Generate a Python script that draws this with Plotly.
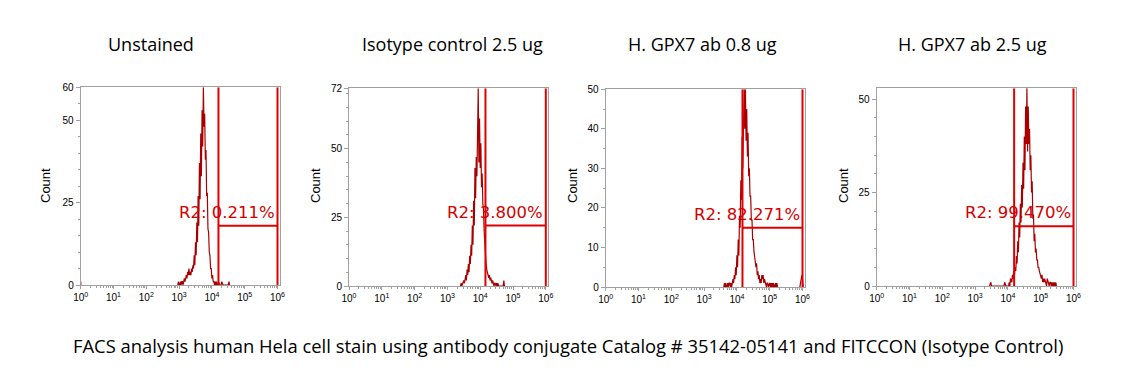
import plotly.graph_objects as go

# page body margin of the browser (default 8px) is compensated for
PAGE_PAD = 8
W_REF, H_REF = 1139, 378
W, H = W_REF - 2 * PAGE_PAD, H_REF - 2 * PAGE_PAD

titles = ["Unstained", "Isotype control 2.5 ug", "H. GPX7 ab 0.8 ug", "H. GPX7 ab 2.5 ug"]
caption = "FACS analysis human Hela cell stain using antibody conjugate Catalog # 35142-05141 and FITCCON (Isotype Control)"
gate_labels = ["R2: 0.211%", "R2: 3.800%", "R2: 82.271%", "R2: 99.470%"]

# histogram channel grid (log10 fluorescence), counts per channel
step = 0.02
p1_start = 2.96
p1_counts = [0, 1, 0, 0, 1, 0, 1, 1, 0, 1, 2, 1, 2, 3, 2, 4, 3, 5, 3, 4,
             3, 5, 4, 6, 5, 9, 6, 13, 9, 19, 13, 27, 18, 37, 26, 46, 33, 53, 42, 60,
             48, 52, 38, 41, 27, 28, 17, 16, 10, 9, 5, 5, 2, 3, 1, 1, 0, 1, 0, 1,
             0, 0, 1, 0, 0, 0, 0, 1, 0, 0, 0, 0, 0, 0, 0, 0, 0, 0, 1, 0]
p2_start = 3.40
p2_counts = [0, 1, 0, 1, 1, 2, 1, 3, 4, 2, 6, 4, 8, 5, 11, 8, 15, 11, 22, 15,
             31, 22, 43, 32, 47, 40, 58, 72, 45, 61, 43, 52, 36, 41, 30, 28, 20, 15, 10, 8,
             6, 5, 4, 3, 4, 2, 3, 2, 1, 2, 1, 0, 1, 1, 0, 1, 0, 1, 0, 0,
             0, 0, 0, 0, 0, 0, 2, 0]
p3_start = 3.60
p3_counts = [0, 1, 0, 1, 0, 0, 1, 0, 1, 1, 0, 1, 0, 1, 2, 1, 3, 2, 5, 3,
             8, 5, 12, 8, 18, 15, 27, 22, 38, 30, 47, 50, 40, 50, 37, 45, 33, 39, 28, 30,
             23, 23, 17, 17, 12, 12, 9, 8, 6, 5, 6, 3, 4, 2, 3, 1, 2, 1, 3, 2,
             3, 1, 2, 1, 1, 0, 1, 1, 0, 1, 1, 0, 1, 0, 1, 0, 1, 0, 0, 1,
             0, 1, 0]
p3_tail_start = 5.90
p3_tail_counts = [0, 0, 1, 2, 3, 2, 0]
p4_start = 3.44
p4_counts = [0, 1, 1, 0, 0, 0, 0, 0, 0, 0, 0, 0, 0, 0, 0, 0, 0, 0, 0, 0,
             0, 0, 0, 1, 0, 0, 0, 0, 0, 0, 1, 0, 2, 1, 1, 3, 2, 4, 3, 5,
             4, 8, 6, 12, 9, 17, 13, 22, 17, 27, 21, 33, 26, 40, 31, 48, 38, 53, 36, 48,
             38, 42, 31, 35, 25, 28, 18, 19, 12, 14, 9, 10, 7, 7, 5, 5, 4, 3, 3, 2,
             3, 1, 2, 1, 2, 1, 1, 0, 2, 1, 1, 0, 1, 1, 0, 1, 0, 1, 0, 1,
             0, 1, 0]

starts = [p1_start, p2_start, p3_start, p4_start]
counts = [p1_counts, p2_counts, p3_counts, p4_counts]
y_max = [60, 72, 50, 52.9]
y_ticks = [[0, 25, 50, 60], [0, 25, 50, 72], [0, 10, 20, 30, 40, 50], [0, 25, 50]]
y_minor = [5, 5, 5, 5]
gate_left = [4.20, 4.16, 4.17, 4.19]
gate_right = 6.0
gate_level = [18, 22, 15, 16]
x_tick_vals = [1, 10, 100, 1e3, 1e4, 1e5, 1e6]
x_tick_text = ["10<sup>%d</sup>" % i for i in range(7)]

# layout geometry (pixels in the reference picture)
panels = [
    (80.7, 87.3, 285.0),
    (349.0, 88.3, 286.0),
    (605.7, 89.3, 287.0),
    (876.7, 88.3, 286.0),
]
px_per_dec = 32.8
x_range_log = 6.08
title_x = [151, 452, 702, 972]
title_y = 44
count_x = [45, 315, 572, 843]
count_y = 186
caption_x, caption_y = 568, 345


def fx(px):
    return (px - PAGE_PAD) / W


def fy(py):
    return 1 - (py - PAGE_PAD) / H


hist_color = "#a80000"
gate_color = "#e00000"
axis_color = "#a0a0a0"

fig = go.Figure()
annotations = []

for i in range(4):
    L, T, B = panels[i]
    R = L + x_range_log * px_per_dec
    xa = "x" if i == 0 else "x%d" % (i + 1)
    ya = "y" if i == 0 else "y%d" % (i + 1)
    xs = [10 ** (starts[i] + k * step) for k in range(len(counts[i]))]
    fig.add_trace(go.Scatter(x=xs, y=counts[i], mode="lines",
                             line=dict(color=hist_color, width=1.2),
                             xaxis=xa, yaxis=ya, showlegend=False, hoverinfo="skip"))
    if i == 0:
        fig.add_trace(go.Scatter(x=[1, 1], y=[0, 1], mode="lines",
                                 line=dict(color=hist_color, width=1.5),
                                 xaxis=xa, yaxis=ya, showlegend=False))
    if i == 2:
        xt = [10 ** (p3_tail_start + k * step) for k in range(len(p3_tail_counts))]
        fig.add_trace(go.Scatter(x=xt, y=p3_tail_counts, mode="lines",
                                 line=dict(color=hist_color, width=1.2),
                                 xaxis=xa, yaxis=ya, showlegend=False))
    gl = 10 ** gate_left[i]
    gr = 10 ** gate_right
    # gate: two verticals and a horizontal bar
    fig.add_trace(go.Scatter(x=[gl, gl], y=[0, y_max[i]], mode="lines",
                             line=dict(color=gate_color, width=2),
                             xaxis=xa, yaxis=ya, showlegend=False))
    fig.add_trace(go.Scatter(x=[gr, gr], y=[0, y_max[i]], mode="lines",
                             line=dict(color=gate_color, width=2),
                             xaxis=xa, yaxis=ya, showlegend=False))
    fig.add_trace(go.Scatter(x=[gl, gr], y=[gate_level[i], gate_level[i]], mode="lines",
                             line=dict(color=gate_color, width=2),
                             xaxis=xa, yaxis=ya, showlegend=False))

    axis_common = dict(showline=True, linecolor=axis_color, linewidth=1, mirror=True,
                       showgrid=False, zeroline=False, ticks="outside",
                       tickcolor=axis_color, automargin=False)
    fig.layout[("xaxis" if i == 0 else "xaxis%d" % (i + 1))] = dict(
        axis_common, type="log", range=[0, x_range_log],
        domain=[fx(L), fx(R)], anchor=ya,
        tickvals=x_tick_vals, ticktext=x_tick_text, ticklen=3,
        tickfont=dict(family="Liberation Sans", size=10, color="#000000"),
        minor=dict(ticks="outside", ticklen=2, tickcolor=axis_color, dtick="D1",
                   showgrid=False),
    )
    fig.layout[("yaxis" if i == 0 else "yaxis%d" % (i + 1))] = dict(
        axis_common, range=[0, y_max[i]],
        domain=[fy(B), fy(T)], anchor=xa,
        tickvals=y_ticks[i], ticklen=4,
        tickfont=dict(family="Liberation Sans", size=10, color="#000000"),
        minor=dict(ticks="outside", ticklen=2, tickcolor=axis_color, dtick=y_minor[i],
                   showgrid=False),
    )

    annotations.append(dict(text=gate_labels[i], xref=xa + " domain", yref=ya,
                            x=6.0 / x_range_log, y=gate_level[i],
                            xanchor="right", yanchor="bottom", xshift=-1, yshift=2,
                            showarrow=False,
                            font=dict(family="DejaVu Sans", size=16.5, color="#d40000")))
    annotations.append(dict(text=titles[i], xref="paper", yref="paper",
                            x=fx(title_x[i]), y=fy(title_y),
                            xanchor="center", yanchor="middle", showarrow=False,
                            font=dict(family="Open Sans", size=18, color="#000000")))
    annotations.append(dict(text="Count", xref="paper", yref="paper",
                            x=fx(count_x[i]), y=fy(count_y), textangle=-90,
                            xanchor="center", yanchor="middle", showarrow=False,
                            font=dict(family="Liberation Sans", size=13, color="#000000")))

annotations.append(dict(text=caption, xref="paper", yref="paper",
                        x=fx(caption_x), y=fy(caption_y), xanchor="center", yanchor="middle",
                        showarrow=False,
                        font=dict(family="Open Sans", size=18.4, color="#000000")))

fig.update_layout(width=W, height=H,
                  margin=dict(l=0, r=0, t=0, b=0, pad=0, autoexpand=False),
                  paper_bgcolor="white", plot_bgcolor="white",
                  annotations=annotations, showlegend=False)

fig.write_html("out.html")
